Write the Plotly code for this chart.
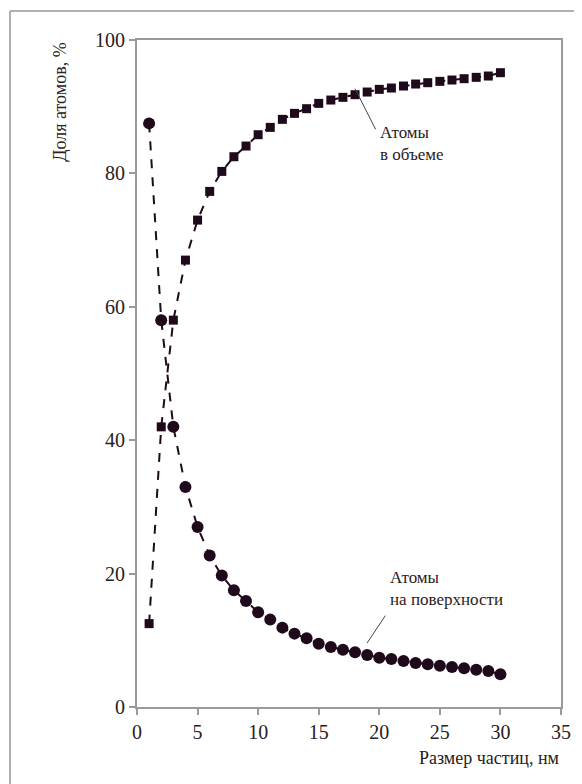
import plotly.graph_objects as go

size_nm = list(range(1, 31))
surface_pct = [87.5, 58, 42, 33, 27, 22.7, 19.7, 17.5, 15.9, 14.2,
               13.1, 11.9, 11.0, 10.3, 9.5, 9.0, 8.6, 8.2, 7.8, 7.4,
               7.2, 6.9, 6.6, 6.4, 6.2, 6.0, 5.8, 5.6, 5.4, 4.9]
volume_pct = [12.5, 42, 58, 67, 73, 77.3, 80.3, 82.5, 84.1, 85.8,
              86.9, 88.1, 89.0, 89.7, 90.5, 91.0, 91.4, 91.8, 92.2, 92.6,
              92.8, 93.1, 93.4, 93.6, 93.8, 94.0, 94.2, 94.4, 94.6, 95.1]
x_ticks = [0, 5, 10, 15, 20, 25, 30, 35]
y_ticks = [0, 20, 40, 60, 80, 100]

INK = "#1f0a1c"
GRAY = "#9a9a9a"
TXT = "#2a2020"
FONT = "Liberation Serif, Times New Roman, serif"

fig = go.Figure()
fig.add_trace(go.Scatter(
    x=size_nm, y=surface_pct, mode="lines+markers",
    line=dict(color=INK, width=2, dash="dash"),
    marker=dict(symbol="circle", size=12, color=INK),
    name="Атомы на поверхности", showlegend=False))
fig.add_trace(go.Scatter(
    x=size_nm, y=volume_pct, mode="lines+markers",
    line=dict(color=INK, width=2, dash="dash"),
    marker=dict(symbol="square", size=9, color=INK),
    name="Атомы в объеме", showlegend=False))

axis_common = dict(
    showgrid=False, zeroline=False, showline=True, linecolor=GRAY, linewidth=2,
    mirror=True, ticks="outside", ticklen=6, tickcolor=GRAY, tickwidth=1.5,
    tickfont=dict(family=FONT, size=20, color=TXT),
)
fig.update_xaxes(range=[0, 35], tickvals=x_ticks, **axis_common)
fig.update_yaxes(range=[0, 100], tickvals=y_ticks, **axis_common)

# callout leader lines (data coords)
fig.add_shape(type="line", x0=18.0, y0=92.7, x1=19.7, y1=86.6, xref="x", yref="y",
              line=dict(color="#444", width=1))
fig.add_shape(type="line", x0=19.0, y0=9.6, x1=20.5, y1=13.7, xref="x", yref="y",
              line=dict(color="#444", width=1))

fig.add_annotation(x=19.9, y=84.5, xref="x", yref="y", xanchor="left", yanchor="middle",
                   text="Атомы<br>в объеме", showarrow=False, align="left",
                   font=dict(family=FONT, size=17, color=TXT))
fig.add_annotation(x=20.7, y=17.8, xref="x", yref="y", xanchor="left", yanchor="middle",
                   text="Атомы<br>на поверхности", showarrow=False, align="left",
                   font=dict(family=FONT, size=17, color=TXT))

# axis titles
fig.add_annotation(x=1.0, y=-0.058, xref="paper", yref="paper", xanchor="right", yanchor="top",
                   text="Размер частиц, нм", showarrow=False,
                   font=dict(family=FONT, size=18, color=TXT))
fig.add_annotation(x=-0.182, y=1.0, xref="paper", yref="paper", xanchor="center", yanchor="top",
                   text="Доля атомов, %", showarrow=False, textangle=-90,
                   font=dict(family=FONT, size=18, color=TXT))

# outer frame (left and top edges visible)
fx0 = (2 - 129) / 424
fx1 = (580 - 129) / 424
fy_top = (699 - 3) / 667
fy_bot = (699 - 790) / 667
fig.add_shape(type="line", xref="paper", yref="paper",
              x0=fx0, x1=fx0, y0=fy_bot, y1=fy_top,
              line=dict(color="#b0b0b0", width=2))
fig.add_shape(type="line", xref="paper", yref="paper",
              x0=fx0, x1=fx1, y0=fy_top, y1=fy_top,
              line=dict(color="#b0b0b0", width=2))

fig.update_layout(
    width=574, height=776,
    margin=dict(l=129, r=21, t=32, b=77),
    plot_bgcolor="white", paper_bgcolor="white",
)
fig.write_html("out.html")
